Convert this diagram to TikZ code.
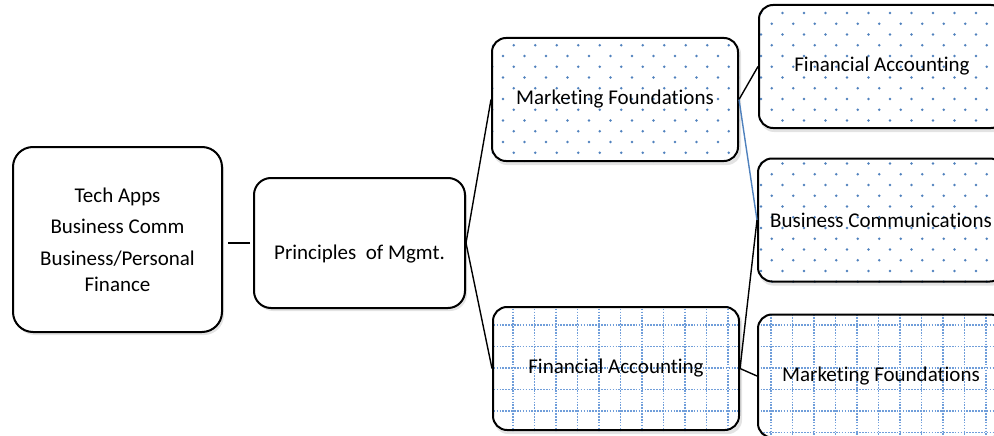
\documentclass[tikz,border=0pt]{standalone}
\usepackage{fontspec}
\setmainfont[Ligatures=NoCommon]{Carlito}
\usetikzlibrary{shadows,backgrounds}
\definecolor{dotblue}{RGB}{79,129,189}
\definecolor{gridblue}{RGB}{112,158,218}
\tikzset{
  card/.style={draw, line width=2pt, rounded corners=14pt, minimum width=246pt, minimum height=123pt,
    align=center, inner sep=0pt, font=\fontsize{21}{25.6}\selectfont},
  box/.style={card, rounded corners=17pt, fill=white,
    drop shadow={shadow xshift=2pt, shadow yshift=-3pt, opacity=0.22}},
  backing/.style={white, rounded corners=14pt,
    drop shadow={shadow xshift=2pt, shadow yshift=-3pt, opacity=0.22}},
  gridline/.style={gridblue, line width=1.6pt, dash pattern=on 1.6pt off 1.3pt},
  link/.style={line width=1.4pt}
}
\begin{document}
\begin{tikzpicture}[x=1pt, y=-1pt]
  \useasboundingbox (0,0) rectangle (994,436);
  \clip (0,0) rectangle (994,436);
%
  % first level
  \node[box, minimum width=209pt, minimum height=185pt, rounded corners=20pt] (techapps) at (117.5,239.5)
    {Tech Apps\\[6pt]Business Comm\\[6pt]Business/Personal\\Finance};
  \node[box, minimum width=211pt, minimum height=130pt] (mgmt) at (359.5,243) {};
  \node (mgmttext) at ([yshift=-11pt]mgmt.center) {\fontsize{21}{25.6}\selectfont Principles\ \ of Mgmt.};
%
  % second level
  \node[card] (mktg) at (615,99.5) {Marketing Foundations};
  \node[card] (finacc2) at (616,368.5) {Financial Accounting};
%
  % third level
  \node[card] (finacc) at (882,66.5) {Financial Accounting};
  \node[card] (buscomm) at (881,220) {Business Communications};
  \node[card] (mktg2) at (881,376) {Marketing Foundations};
%
  % fills behind the cards
  \begin{scope}[on background layer]
    \foreach \n in {mktg,finacc,buscomm,finacc2,mktg2}
      \fill[backing] (\n.north west) rectangle (\n.south east);
    % dots
    \foreach \n in {mktg,finacc,buscomm} {
      \begin{scope}
        \clip[rounded corners=14pt] (\n.north west) rectangle (\n.south east);
        \foreach \i in {0,...,25} \foreach \j in {0,...,13} {
          \fill[dotblue] (481.5+\i*21.5, 13+\j*21.5) circle (1.3);
          \fill[dotblue] (470.75+\i*21.5, 2.25+\j*21.5) circle (1.3);
        }
      \end{scope}
    }
    % dotted grid
    \foreach \n in {finacc2,mktg2} {
      \begin{scope}
        \clip[rounded corners=14pt] (\n.north west) rectangle (\n.south east);
        \foreach \i in {0,...,24}
          \draw[gridline] (491.5+\i*21.5, 300) -- (491.5+\i*21.5, 440);
        \foreach \j in {0,...,6}
          \draw[gridline] (485, 303.5+\j*21.5) -- (1000, 303.5+\j*21.5);
      \end{scope}
    }
  \end{scope}
%
  % connectors
  \draw[link, shorten <=3pt, shorten >=5pt] (mgmt.west) -- (mgmt.west -| techapps.east);
  \draw[link] (mgmt.east) -- (mktg.west);
  \draw[link] (mgmt.east) -- (finacc2.west);
  \draw[link] (mktg.east) -- (finacc.west);
  \draw[link, dotblue] (mktg.east) -- (buscomm.west);
  \draw[link] (finacc2.east) -- (buscomm.west);
  \draw[link] (finacc2.east) -- (mktg2.west);
\end{tikzpicture}
\end{document}
